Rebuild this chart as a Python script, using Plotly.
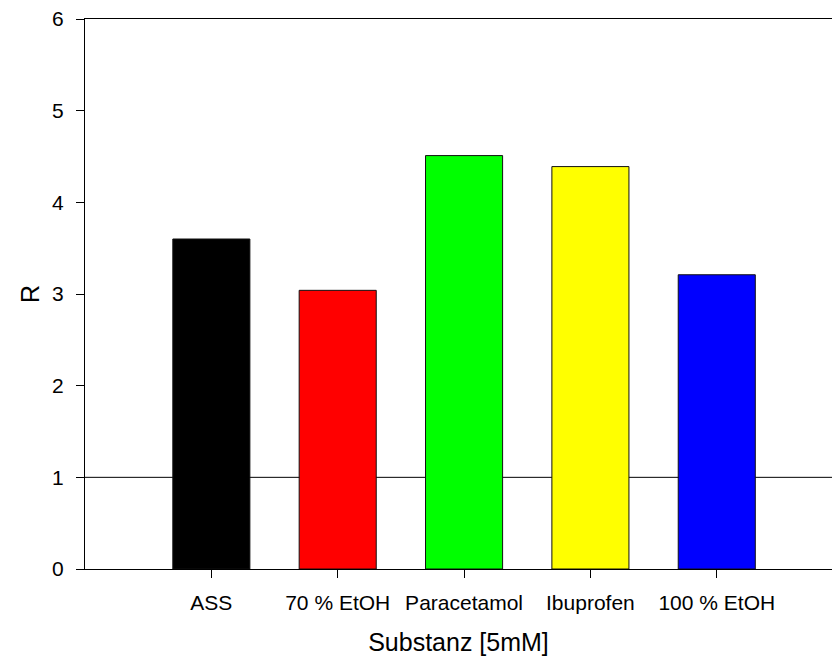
import plotly.graph_objects as go

categories = ["ASS", "70 % EtOH", "Paracetamol", "Ibuprofen", "100 % EtOH"]
values = [3.60, 3.04, 4.51, 4.39, 3.21]
colors = ["#000000", "#ff0000", "#00ff00", "#ffff00", "#0000ff"]
y_ticks = [0, 1, 2, 3, 4, 5, 6]
reference_value = 1

font_family = "Liberation Sans, Arial, sans-serif"

fig = go.Figure()
fig.add_trace(go.Bar(
    x=categories,
    y=values,
    width=0.61,
    marker=dict(color=colors, line=dict(color="#111111", width=1)),
    showlegend=False,
))

fig.add_shape(
    type="line", xref="paper", yref="y",
    x0=0, x1=1, y0=reference_value, y1=reference_value,
    line=dict(color="black", width=1), layer="below",
)

fig.update_layout(
    width=832, height=660,
    margin=dict(l=85, r=0, t=19, b=91),
    plot_bgcolor="white", paper_bgcolor="white",
    font=dict(family=font_family, color="black"),
    xaxis=dict(
        type="category",
        range=[-1, 4.912],
        automargin=False,
        showline=True, linecolor="black", linewidth=1, mirror=True,
        ticks="outside", ticklen=8, tickcolor="black", tickwidth=1,
        tickfont=dict(size=21),
        ticklabelstandoff=7,
        showgrid=False, zeroline=False,
        title=dict(text="Substanz [5mM]", font=dict(size=25), standoff=20),
    ),
    yaxis=dict(
        range=[0, 6],
        tickvals=y_ticks,
        automargin=False,
        showline=True, linecolor="black", linewidth=1,
        ticks="outside", ticklen=8, tickcolor="black", tickwidth=1,
        tickfont=dict(size=21),
        ticklabelstandoff=8,
        showgrid=False, zeroline=False,
        title=dict(text="R", font=dict(size=25), standoff=5),
    ),
)

fig.write_html(
    "out.html",
    config={"displayModeBar": False},
    post_script="document.body.style.margin='0';document.body.style.overflow='hidden';",
)
